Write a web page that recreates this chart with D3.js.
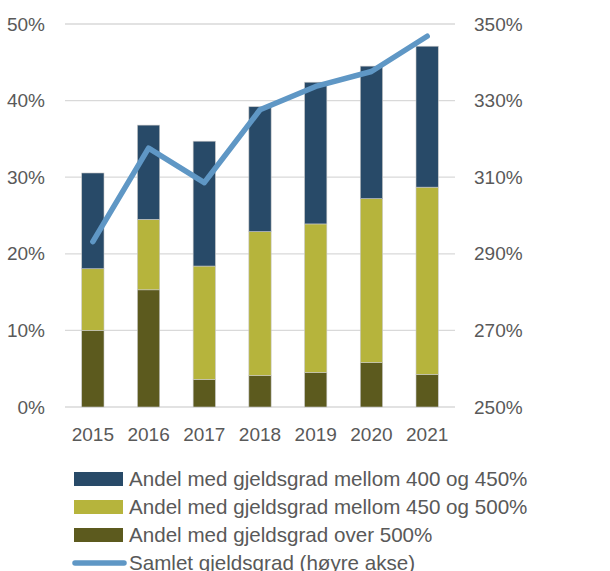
<!DOCTYPE html>
<html>
<head>
<meta charset="utf-8">
<script src="https://cdn.jsdelivr.net/npm/d3@7"></script>
<style>
  body { margin: 0; background: #fff; }
  text { font-family: "Liberation Sans", "DejaVu Sans", sans-serif; fill: #595959; }
</style>
</head>
<body>
<div id="chart"></div>
<script>
// Chart data
var years = ["2015", "2016", "2017", "2018", "2019", "2020", "2021"];
var over500 = [10.0, 15.3, 3.6, 4.1, 4.5, 5.8, 4.25];
var from450to500 = [8.05, 9.2, 14.8, 18.8, 19.4, 21.4, 24.45];
var from400to450 = [12.5, 12.3, 16.3, 16.3, 18.5, 17.3, 18.4];
var totalRatio = [293.2, 317.6, 308.6, 327.6, 333.7, 337.6, 346.8];

var leftTicks = [0, 10, 20, 30, 40, 50];
var rightTicks = [250, 270, 290, 310, 330, 350];

var seriesNames = [
  "Andel med gjeldsgrad mellom 400 og 450%",
  "Andel med gjeldsgrad mellom 450 og 500%",
  "Andel med gjeldsgrad over 500%",
  "Samlet gjeldsgrad (høyre akse)"
];

var svgWidth = 610;
var svgHeight = 571;

var margin = { top: 24, right: 155, bottom: 164, left: 65 };
var chartWidth = svgWidth - margin.left - margin.right;
var chartHeight = svgHeight - margin.top - margin.bottom;

var svg = d3.select("#chart")
  .append("svg")
  .attr("width", svgWidth)
  .attr("height", svgHeight);

var chartGroup = svg.append("g")
  .attr("transform", `translate(${margin.left}, ${margin.top})`);

// Scales
var xScale = d3.scaleBand()
  .domain(years)
  .range([0, chartWidth])
  .paddingInner(0.6)
  .paddingOuter(0.3);

var yLeft = d3.scaleLinear().domain([0, 50]).range([chartHeight, 0]);
var yRight = d3.scaleLinear().domain([250, 350]).range([chartHeight, 0]);

// Gridlines
chartGroup.append("g")
  .selectAll("line")
  .data(leftTicks)
  .enter()
  .append("line")
  .attr("x1", 0)
  .attr("x2", chartWidth)
  .attr("y1", d => yLeft(d))
  .attr("y2", d => yLeft(d))
  .attr("stroke", "#d9d9d9")
  .attr("stroke-width", 1.3);

// Axes (text only, no domain line)
var leftAxis = d3.axisLeft(yLeft).tickValues(leftTicks).tickSize(0).tickPadding(20)
  .tickFormat(d => d + "%");
var rightAxis = d3.axisRight(yRight).tickValues(rightTicks).tickSize(0).tickPadding(19)
  .tickFormat(d => d + "%");
var bottomAxis = d3.axisBottom(xScale).tickSize(0).tickPadding(21);

[chartGroup.append("g").call(leftAxis),
 chartGroup.append("g").attr("transform", `translate(${chartWidth}, 0)`).call(rightAxis),
 chartGroup.append("g").attr("transform", `translate(0, ${chartHeight})`).call(bottomAxis)
].forEach(function(g) {
  g.select(".domain").remove();
  g.selectAll("text")
    .attr("font-size", "19px")
    .attr("font-family", null)
    .attr("fill", "#595959");
});

// Stacked bars
var rows = years.map(function(y, i) {
  return { year: y, over500: over500[i], mid: from450to500[i], low: from400to450[i] };
});
var stack = d3.stack().keys(["over500", "mid", "low"]);
var stacked = stack(rows);
var colors = { over500: "#5c5a1e", mid: "#b6b43c", low: "#284a68" };

chartGroup.append("g")
  .selectAll("g")
  .data(stacked)
  .enter()
  .append("g")
  .attr("fill", d => colors[d.key])
  .selectAll("rect")
  .data(d => d)
  .enter()
  .append("rect")
  .attr("x", d => xScale(d.data.year))
  .attr("width", xScale.bandwidth())
  .attr("y", d => yLeft(d[1]))
  .attr("height", d => yLeft(d[0]) - yLeft(d[1]))
  .attr("stroke", "#c8c8c8")
  .attr("stroke-width", 0.6);

// Line on right axis
var line = d3.line()
  .x((d, i) => xScale(years[i]) + xScale.bandwidth() / 2)
  .y(d => yRight(d));

chartGroup.append("path")
  .datum(totalRatio)
  .attr("d", line)
  .attr("fill", "none")
  .attr("stroke", "#5f97c5")
  .attr("stroke-width", 5.5)
  .attr("stroke-linecap", "round")
  .attr("stroke-linejoin", "round");

// Legend
var legend = svg.append("g").attr("transform", "translate(74, 479)");
var legendColors = ["#284a68", "#b6b43c", "#5c5a1e"];

seriesNames.forEach(function(name, i) {
  var row = legend.append("g").attr("transform", `translate(0, ${i * 28})`);
  if (i < 3) {
    row.append("rect")
      .attr("x", 0)
      .attr("y", -7)
      .attr("width", 49)
      .attr("height", 14)
      .attr("fill", legendColors[i]);
  } else {
    row.append("line")
      .attr("x1", 1)
      .attr("x2", 50)
      .attr("y1", 0)
      .attr("y2", 0)
      .attr("stroke", "#5f97c5")
      .attr("stroke-width", 5.5)
      .attr("stroke-linecap", "round");
  }
  row.append("text")
    .attr("x", 55)
    .attr("y", 0)
    .attr("dy", "0.35em")
    .attr("font-size", "20.6px")
    .text(name);
});
</script>
</body>
</html>
